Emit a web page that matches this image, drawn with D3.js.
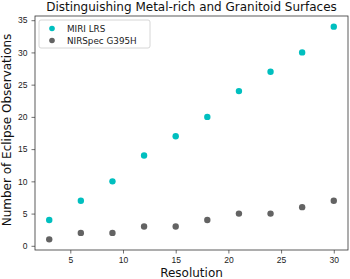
<!DOCTYPE html>
<html>
<head>
<meta charset="utf-8">
<script src="https://cdn.jsdelivr.net/npm/d3@7"></script>
<style>
  body { margin: 0; background: #fff; }
  svg { font-family: 'DejaVu Sans', sans-serif; }
  .tick text { font-size: 8.5px; fill: #222; }
</style>
</head>
<body>
<svg width="350" height="279"></svg>
<script>
  const resolution = [3, 6, 9, 12, 15, 18, 21, 24, 27, 30];
  const miriLRS = [4, 7, 10, 14, 17, 20, 24, 27, 30, 34];
  const nirspecG395H = [1, 2, 2, 3, 3, 4, 5, 5, 6, 7];
  const seriesNames = ['MIRI LRS', 'NIRSpec G395H'];
  const seriesColors = ['#00bfbf', '#636363'];
  const xTicks = [5, 10, 15, 20, 25, 30];
  const yTicks = [0, 5, 10, 15, 20, 25, 30, 35];

  const svg = d3.select('svg');
  const width = +svg.attr('width');
  const height = +svg.attr('height');

  const margin = { top: 16, right: 2, bottom: 29, left: 35 };
  const innerWidth = width - margin.left - margin.right;
  const innerHeight = height - margin.top - margin.bottom;

  const xScale = d3.scaleLinear()
    .domain([1.65, 31.35])
    .range([0, innerWidth]);

  const yScale = d3.scaleLinear()
    .domain([-0.65, 35.65])
    .range([innerHeight, 0]);

  const g = svg.append('g')
    .attr('transform', `translate(${margin.left},${margin.top})`);

  const xAxisG = g.append('g')
    .attr('transform', `translate(0,${innerHeight})`)
    .call(d3.axisBottom(xScale).tickValues(xTicks).tickSize(3.5).tickPadding(3.5));

  const yAxisG = g.append('g')
    .call(d3.axisLeft(yScale).tickValues(yTicks).tickSize(3.5).tickPadding(4));

  [xAxisG, yAxisG].forEach(a => {
    a.select('.domain').remove();
    a.selectAll('.tick line').attr('stroke', '#333').attr('stroke-width', 0.7);
  });

  // frame
  g.append('rect')
    .attr('width', innerWidth)
    .attr('height', innerHeight)
    .attr('fill', 'none')
    .attr('stroke', '#333')
    .attr('stroke-width', 0.8);

  const series = [miriLRS, nirspecG395H];
  series.forEach((vals, i) => {
    g.selectAll(null).data(vals)
      .enter().append('circle')
        .attr('cx', (d, j) => xScale(resolution[j]))
        .attr('cy', d => yScale(d))
        .attr('r', 3.2)
        .attr('fill', seriesColors[i]);
  });

  // legend
  const legend = g.append('g').attr('transform', 'translate(4,4)');
  legend.append('rect')
    .attr('width', 111)
    .attr('height', 28)
    .attr('rx', 2)
    .attr('fill', '#fff')
    .attr('fill-opacity', 0.8)
    .attr('stroke', '#ccc')
    .attr('stroke-width', 0.8);
  seriesNames.forEach((name, i) => {
    legend.append('circle')
      .attr('cx', 13)
      .attr('cy', 8.5 + i * 12)
      .attr('r', 2.8)
      .attr('fill', seriesColors[i]);
    legend.append('text')
      .attr('x', 28)
      .attr('y', 11.5 + i * 12)
      .attr('font-size', 8.8)
      .attr('fill', '#222')
      .text(name);
  });

  svg.append('text')
    .attr('x', margin.left + innerWidth / 2)
    .attr('y', 10.5)
    .attr('text-anchor', 'middle')
    .attr('font-size', 12)
    .attr('fill', '#111')
    .text('Distinguishing Metal-rich and Granitoid Surfaces');

  svg.append('text')
    .attr('x', margin.left + innerWidth / 2)
    .attr('y', 277)
    .attr('text-anchor', 'middle')
    .attr('font-size', 12)
    .attr('fill', '#111')
    .text('Resolution');

  svg.append('text')
    .attr('transform', `translate(11,${margin.top + innerHeight / 2 - 3}) rotate(-90)`)
    .attr('text-anchor', 'middle')
    .attr('font-size', 12)
    .attr('fill', '#111')
    .text('Number of Eclipse Observations');
</script>
</body>
</html>
